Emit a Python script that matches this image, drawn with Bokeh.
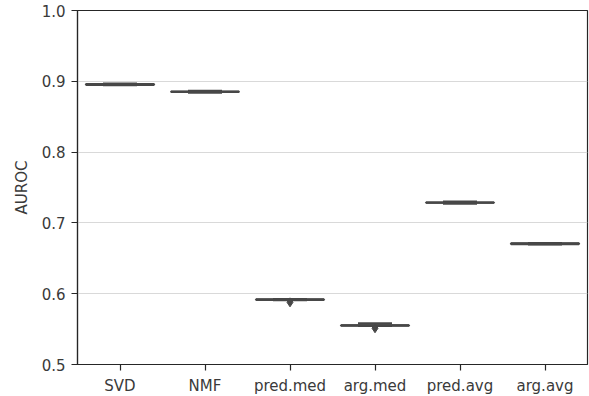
import numpy as np
from bokeh.plotting import figure
from bokeh.models import FixedTicker, Range1d
from bokeh.embed import file_html
from bokeh.resources import INLINE

categories = ["SVD", "NMF", "pred.med", "arg.med", "pred.avg", "arg.avg"]
q1 = [0.8950, 0.8851, 0.5913, 0.5549, 0.7285, 0.6701]
q3 = [0.8962, 0.8854, 0.5919, 0.5554, 0.7288, 0.6712]
med = [0.8956, 0.8852, 0.5916, 0.5552, 0.7286, 0.6706]
wlo = [0.8946, 0.8838, 0.5909, 0.5546, 0.7272, 0.6698]
whi = [0.8966, 0.8866, 0.5923, 0.5582, 0.7300, 0.6715]
out_cat = [2, 3]
out_val = [0.5878, 0.5512]
yticks = [0.5, 0.6, 0.7, 0.8, 0.9, 1.0]

x = np.arange(len(categories))
bw = 0.8
cw = 0.4
edge = "#474747"
txt = "#3a3a3a"

p = figure(frame_width=510, frame_height=354, width=589, height=396,
           min_border_left=77, min_border_right=2, min_border_top=10, min_border_bottom=32,
           output_backend="svg", toolbar_location=None,
           x_range=Range1d(-0.5, 5.5), y_range=Range1d(0.5, 1.0))
p.background_fill_color = "white"
p.border_fill_color = "white"
p.outline_line_color = "#262626"
p.outline_line_width = 1.2

p.xgrid.visible = False
p.ygrid.grid_line_color = "#d9d9d9"
p.ygrid.grid_line_width = 1
p.ygrid.ticker = FixedTicker(ticks=yticks)

p.xaxis.ticker = FixedTicker(ticks=list(x))
p.xaxis.major_label_overrides = {int(i): c for i, c in zip(x, categories)}
p.yaxis.ticker = FixedTicker(ticks=yticks)
p.yaxis.major_label_overrides = {t: f"{t:.1f}" for t in yticks}
p.yaxis.axis_label = "AUROC"
for ax in (p.xaxis, p.yaxis):
    ax.axis_line_color = "#262626"
    ax.axis_line_width = 1.2
    ax.major_tick_line_color = "#262626"
    ax.major_tick_line_width = 1.2
    ax.major_tick_in = 0
    ax.major_tick_out = 6
    ax.minor_tick_line_color = None
    ax.major_label_text_font = "DejaVu Sans"
    ax.major_label_text_font_size = "15px"
    ax.major_label_text_color = txt
    ax.major_label_standoff = 6
p.yaxis.axis_label_text_font = "DejaVu Sans"
p.yaxis.axis_label_text_font_size = "15px"
p.yaxis.axis_label_text_font_style = "normal"
p.yaxis.axis_label_text_color = txt
p.yaxis.axis_label_standoff = 8

lw = 2.2
# whiskers
p.segment(x0=x, y0=q3, x1=x, y1=whi, line_color=edge, line_width=lw)
p.segment(x0=x, y0=q1, x1=x, y1=wlo, line_color=edge, line_width=lw)
# caps
p.segment(x0=x - cw / 2, y0=whi, x1=x + cw / 2, y1=whi, line_color=edge, line_width=lw)
p.segment(x0=x - cw / 2, y0=wlo, x1=x + cw / 2, y1=wlo, line_color=edge, line_width=lw)
# boxes
p.quad(left=x - bw / 2, right=x + bw / 2, bottom=q1, top=q3,
       fill_color="#808080", line_color=edge, line_width=lw)
# medians
p.segment(x0=x - bw / 2, y0=med, x1=x + bw / 2, y1=med, line_color=edge, line_width=lw)
# outliers
p.scatter(x=[x[i] for i in out_cat], y=out_val, marker="diamond", size=9,
          fill_color=edge, line_color=edge)

open("out.html", "w").write(file_html(p, INLINE))
